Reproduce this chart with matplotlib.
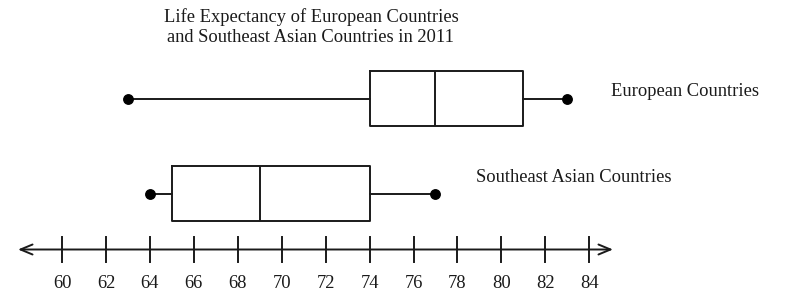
import matplotlib
matplotlib.use("Agg")
import matplotlib.pyplot as plt
from matplotlib.patches import FancyArrowPatch

# Data
groups = ["European Countries", "Southeast Asian Countries"]
mins = [63, 64]
q1s = [74, 65]
medians = [77, 69]
q3s = [81, 74]
maxs = [83, 77]
tick_values = [60, 62, 64, 66, 68, 70, 72, 74, 76, 78, 80, 82, 84]
title_lines = ["Life Expectancy of European Countries",
               "and Southeast Asian Countries in 2011"]

W, H = 795, 302
fig = plt.figure(figsize=(W / 100, H / 100), dpi=100)
ax = fig.add_axes([0, 0, 1, 1])
ppu = 21.97  # pixels per year
x0 = 60 - 62 / ppu
ax.set_xlim(x0, x0 + W / ppu)
ax.set_ylim(H, 0)
ax.axis("off")


def px(x):
    return x0 + x / ppu


font = "Liberation Serif"
fs = 13.3
lw = 1.4
col = "#1a1a1a"

positions = [98.5, 193.5]
stats = []
for g, mn, a, m, b, mx in zip(groups, mins, q1s, medians, q3s, maxs):
    stats.append(dict(label=g, whislo=mn, q1=a, med=m, q3=b, whishi=mx, fliers=[]))
ax.bxp(stats, positions=positions, widths=55, orientation="horizontal",
       showcaps=False, showfliers=False, manage_ticks=False,
       boxprops=dict(color=col, linewidth=lw),
       whiskerprops=dict(color=col, linewidth=lw),
       medianprops=dict(color=col, linewidth=lw))
for p, mn, mx in zip(positions, mins, maxs):
    ax.plot([mn, mx], [p, p], "o", color="black", markersize=6.8, zorder=5)

# group labels
ax.text(px(611), 92, groups[0], fontfamily=font, fontsize=fs, va="center", ha="left", color=col)
ax.text(px(476), 177, groups[1], fontfamily=font, fontsize=fs, va="center", ha="left", color=col)

# title
ax.text(px(311), 17, title_lines[0], fontfamily=font, fontsize=fs, va="center", ha="center", color=col)
ax.text(px(310), 38, title_lines[1], fontfamily=font, fontsize=fs, va="center", ha="center", color=col)

# number line
axis_y = 249.5
arr = FancyArrowPatch((px(18), axis_y), (px(613), axis_y),
                      arrowstyle="<->,head_length=0.72,head_width=0.3",
                      color=col, linewidth=lw, mutation_scale=12,
                      shrinkA=0, shrinkB=0)
ax.add_patch(arr)
for t in tick_values:
    ax.plot([t, t], [237, 262], color=col, linewidth=lw)
    ax.text(t, 283, str(t), fontfamily=font, fontsize=fs, va="center", ha="center", color=col)

fig.savefig("out.png", dpi=100, facecolor="white")
